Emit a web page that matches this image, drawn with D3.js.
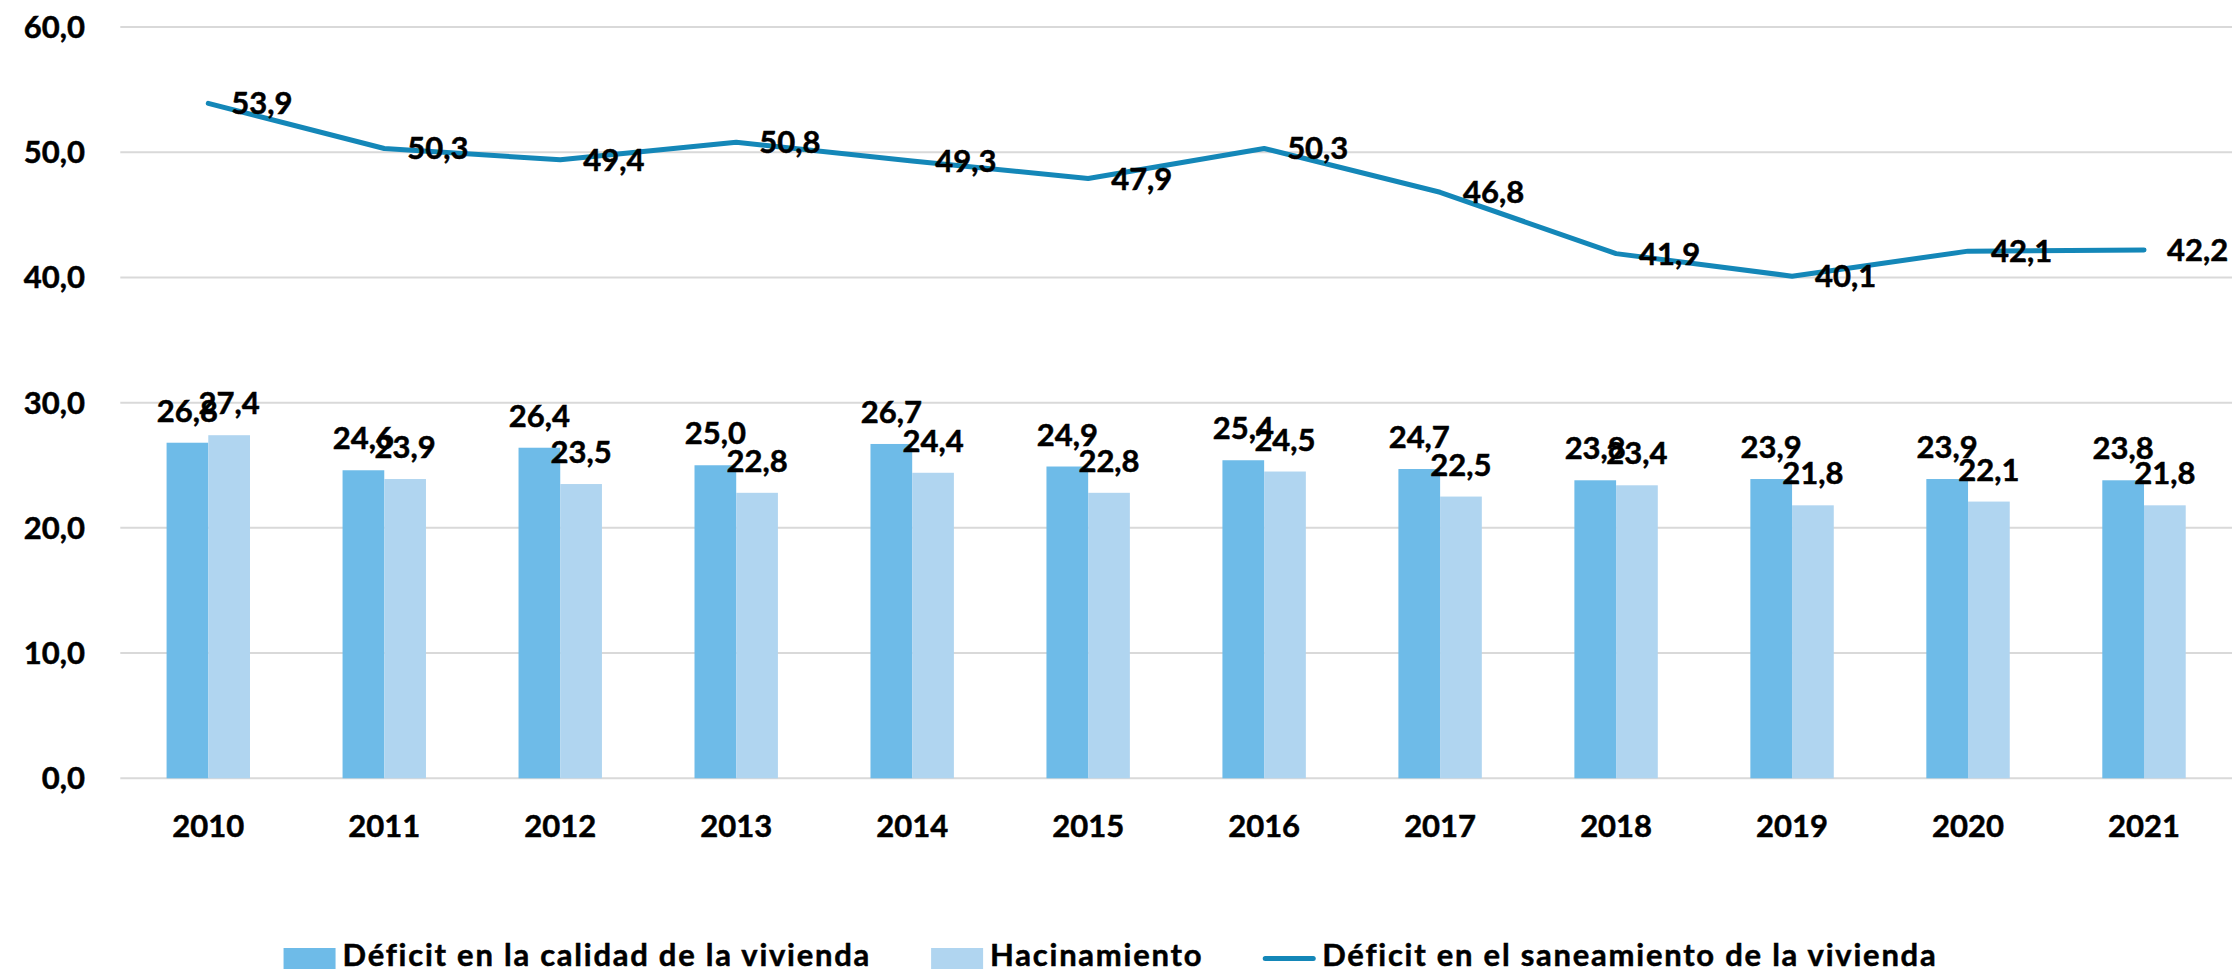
<!DOCTYPE html>
<html>
<head>
<meta charset="utf-8">
<script src="https://cdn.jsdelivr.net/npm/d3@7"></script>
<style>
  html, body { margin: 0; padding: 0; background: #fff; }
  svg { display: block; }
  text { font-family: Lato, "Open Sans", sans-serif; font-weight: 700; fill: #000; stroke: #000; stroke-width: 0.5px; }
</style>
</head>
<body>
<svg id="chart" width="2237" height="972"></svg>
<script>
const years = ["2010","2011","2012","2013","2014","2015","2016","2017","2018","2019","2020","2021"];
const calidad = [26.8, 24.6, 26.4, 25.0, 26.7, 24.9, 25.4, 24.7, 23.8, 23.9, 23.9, 23.8];
const hacinamiento = [27.4, 23.9, 23.5, 22.8, 24.4, 22.8, 24.5, 22.5, 23.4, 21.8, 22.1, 21.8];
const saneamiento = [53.9, 50.3, 49.4, 50.8, 49.3, 47.9, 50.3, 46.8, 41.9, 40.1, 42.1, 42.2];
const yTicks = [0, 10, 20, 30, 40, 50, 60];
const seriesNames = ["Déficit en la calidad de la vivienda", "Hacinamiento", "Déficit en el saneamiento de la vivienda"];

const colors = { calidad: "#6EBBE8", hacinamiento: "#B0D5F0", line: "#1487B8", grid: "#D9D9D9" };
const fmt = v => d3.format(".1f")(v).replace(".", ",");

const svg = d3.select("#chart");
const plotL = 120.3, plotR = 2232, plotT = 27, plotB = 778.3;
const fs = 31;

const x = d3.scaleBand().domain(years).range([plotL, plotR]).paddingInner(0).paddingOuter(0);
const y = d3.scaleLinear().domain([0, 60]).range([plotB, plotT]);
const bw = x.bandwidth() * 0.237;

// gridlines
svg.append("g").selectAll("line").data(yTicks).join("line")
  .attr("x1", plotL).attr("x2", plotR)
  .attr("y1", d => y(d)).attr("y2", d => y(d))
  .attr("stroke", colors.grid).attr("stroke-width", 2);

// y tick labels
svg.append("g").selectAll("text").data(yTicks).join("text")
  .attr("x", 85).attr("y", d => y(d) + 11)
  .attr("text-anchor", "end").attr("font-size", fs)
  .text(d => fmt(d));

// x labels
svg.append("g").selectAll("text").data(years).join("text")
  .attr("x", d => x(d) + x.bandwidth() / 2).attr("y", 837)
  .attr("text-anchor", "middle").attr("font-size", fs)
  .text(d => d);

const cx = d => x(d) + x.bandwidth() / 2;

// bars
svg.append("g").selectAll("rect").data(years).join("rect")
  .attr("x", d => cx(d) - bw).attr("width", bw)
  .attr("y", (d, i) => y(calidad[i])).attr("height", (d, i) => y(0) - y(calidad[i]))
  .attr("fill", colors.calidad);
svg.append("g").selectAll("rect").data(years).join("rect")
  .attr("x", d => cx(d)).attr("width", bw)
  .attr("y", (d, i) => y(hacinamiento[i])).attr("height", (d, i) => y(0) - y(hacinamiento[i]))
  .attr("fill", colors.hacinamiento);

// line
const line = d3.line().x((d, i) => cx(years[i])).y(d => y(d));
svg.append("path").datum(saneamiento)
  .attr("d", line).attr("fill", "none")
  .attr("stroke", colors.line).attr("stroke-width", 5)
  .attr("stroke-linejoin", "round").attr("stroke-linecap", "round");

// bar labels
svg.append("g").selectAll("text").data(years).join("text")
  .attr("x", d => cx(d) - bw / 2).attr("y", (d, i) => y(calidad[i]) - 21)
  .attr("text-anchor", "middle").attr("font-size", fs)
  .text((d, i) => fmt(calidad[i]));
svg.append("g").selectAll("text").data(years).join("text")
  .attr("x", d => cx(d) + bw / 2).attr("y", (d, i) => y(hacinamiento[i]) - 21)
  .attr("text-anchor", "middle").attr("font-size", fs)
  .text((d, i) => fmt(hacinamiento[i]));

// line labels
svg.append("g").selectAll("text").data(years).join("text")
  .attr("x", d => cx(d) + 23).attr("y", (d, i) => y(saneamiento[i]) + 11)
  .attr("text-anchor", "start").attr("font-size", fs)
  .text((d, i) => fmt(saneamiento[i]));

// legend
const lg = svg.append("g");
const markerW = 52, gapT = 7, gapItem = 60, legBase = 966;
const items = seriesNames.map((name, i) => ({ name, i }));
const texts = items.map(it => lg.append("text").attr("font-size", fs).attr("letter-spacing", 1.75)
  .attr("y", legBase).text(it.name));
const widths = texts.map(t => t.node().getComputedTextLength());
const total = widths.reduce((a, w) => a + w, 0) + 3 * (markerW + gapT) + 2 * gapItem;
let cur = 1110.5 - total / 2;
items.forEach((it, i) => {
  if (i < 2) {
    lg.append("rect").attr("x", cur).attr("y", 948).attr("width", markerW).attr("height", 21)
      .attr("fill", i === 0 ? colors.calidad : colors.hacinamiento);
  } else {
    lg.append("line").attr("x1", cur + 2).attr("x2", cur + markerW - 2)
      .attr("y1", 958.5).attr("y2", 958.5)
      .attr("stroke", colors.line).attr("stroke-width", 5).attr("stroke-linecap", "round");
  }
  texts[i].attr("x", cur + markerW + gapT);
  cur += markerW + gapT + widths[i] + gapItem;
});
</script>
</body>
</html>
